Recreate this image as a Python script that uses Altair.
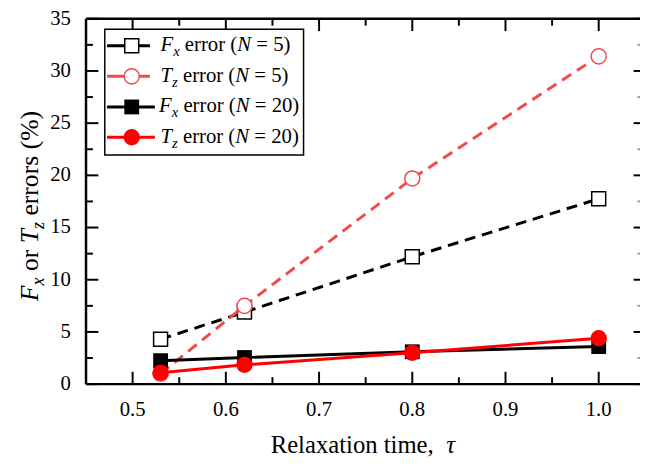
import altair as alt
import pandas as pd

# ---------------- data ----------------
tau = [0.53, 0.62, 0.80, 1.00]
fx_n5 = [4.3, 6.9, 12.2, 17.75]
tz_n5 = [1.0, 7.5, 19.7, 31.4]
fx_n20 = [2.25, 2.55, 3.1, 3.6]
tz_n20 = [1.1, 1.85, 3.0, 4.4]

x_major = [0.5, 0.6, 0.7, 0.8, 0.9, 1.0]
x_minor = [0.55, 0.65, 0.75, 0.85, 0.95]
y_major = [0, 5, 10, 15, 20, 25, 30, 35]
y_minor = [2.5, 7.5, 12.5, 17.5, 22.5, 27.5, 32.5]

# rich-text labels: (text, italic, subscript)
legend_rows = [
    [("F", True, False), ("x", True, True), (" error (", False, False), ("N", True, False), (" = 5)", False, False)],
    [("T", True, False), ("z", True, True), (" error (", False, False), ("N", True, False), (" = 5)", False, False)],
    [("F", True, False), ("x", True, True), (" error (", False, False), ("N", True, False), (" = 20)", False, False)],
    [("T", True, False), ("z", True, True), (" error (", False, False), ("N", True, False), (" = 20)", False, False)],
]
x_title = [("Relaxation time,", False, False), ("  \u03c4", True, False)]
y_title = [("F", True, False), ("x", True, True), (" or ", False, False), ("T", True, False),
           ("z", True, True), (" errors (%)", False, False)]

# ---------------- style ----------------
FONT = "Liberation Serif"
W, H = 561, 370
RED_L = "#f24a4a"
RED = "#ff0000"
xs = alt.Scale(domain=[0.45, 1.0443], nice=False, zero=False)
ys = alt.Scale(domain=[0, 35], nice=False, zero=False)

# Times / Liberation Serif advance widths (1/1000 em)
REG = {' ': 250, '(': 333, ')': 333, '=': 564, '%': 833, ',': 250, 'R': 667, 'e': 444, 'r': 333,
       'o': 500, 's': 389, 'l': 278, 'a': 444, 'x': 500, 't': 278, 'i': 278, 'n': 500, 'm': 778}
ITA = {'F': 611, 'T': 556, 'N': 667, 'x': 444, 'z': 389, '\u03c4': 440}


def layout(segs, size, subscale=0.7):
    pos = 0.0
    out = []
    for text, italic, sub in segs:
        fs = size * subscale if sub else size
        table = ITA if italic else REG
        lead = len(text) - len(text.lstrip(' '))
        pos += lead * 250 / 1000 * fs
        core = text.strip(' ')
        out.append((core, pos, italic, fs, sub))
        pos += sum(table.get(c, 500) for c in core) / 1000 * fs
        trail = len(text) - len(text.rstrip(' '))
        pos += trail * 250 / 1000 * fs
    return out


def text_piece(txt, px, py, italic, fs, angle=None):
    kw = dict(font=FONT, fontSize=fs, align='left', baseline='alphabetic')
    if italic:
        kw['fontStyle'] = 'italic'
    if angle is not None:
        kw['angle'] = angle
    return alt.Chart(pd.DataFrame({'t': [txt]})).mark_text(**kw).encode(
        text='t:N', x=alt.value(px), y=alt.value(py))


one = pd.DataFrame({'a': [0]})
layers = []

# ---------------- frame (spines) ----------------
layers.append(alt.Chart(one).mark_rule(color='black', strokeWidth=2.5).encode(
    x=alt.value(0), x2=alt.value(W), y=alt.value(0)))
layers.append(alt.Chart(one).mark_rule(color='black', strokeWidth=2.5).encode(
    x=alt.value(0), x2=alt.value(W), y=alt.value(H)))
layers.append(alt.Chart(one).mark_rule(color='black', strokeWidth=2.5).encode(
    x=alt.value(0), y=alt.value(0), y2=alt.value(H)))


def xticks(vals, y0, y1, color='black'):
    return alt.Chart(pd.DataFrame({'v': vals})).mark_rule(color=color, strokeWidth=2).encode(
        x=alt.X('v:Q', scale=xs, axis=None), y=alt.value(y0), y2=alt.value(y1))


def yticks(vals, x0, x1, color='black'):
    return alt.Chart(pd.DataFrame({'v': vals})).mark_rule(color=color, strokeWidth=2).encode(
        y=alt.Y('v:Q', scale=ys, axis=None), x=alt.value(x0), x2=alt.value(x1))


layers += [
    xticks(x_major, H, H - 12.5), xticks(x_minor, H, H - 7),
    xticks(x_major, 0, 12.5), xticks(x_minor, 0, 7),
    yticks(y_major, 0, 12.5), yticks(y_minor, 0, 7),
    yticks(y_major, W - 6.5, W), yticks(y_minor, W - 2.5, W, '#9a9a9a'),
]

# tick labels through the scales
layers.append(alt.Chart(pd.DataFrame({'v': x_major})).mark_text(
    font=FONT, fontSize=21, align='center', baseline='alphabetic').encode(
    x=alt.X('v:Q', scale=xs, axis=None), y=alt.value(H + 32), text=alt.Text('v:Q', format='.1f')))
layers.append(alt.Chart(pd.DataFrame({'v': y_major})).mark_text(
    font=FONT, fontSize=21, align='right', baseline='middle').encode(
    y=alt.Y('v:Q', scale=ys, axis=None), x=alt.value(-15.3), text=alt.Text('v:Q', format='d')))


def series(vals, color, dash, mark):
    df = pd.DataFrame({'tau': tau, 'v': vals})
    base = alt.Chart(df).encode(x=alt.X('tau:Q', scale=xs, axis=None),
                                y=alt.Y('v:Q', scale=ys, axis=None))
    lkw = dict(color=color, strokeWidth=3)
    if dash:
        lkw['strokeDash'] = dash
    return [base.mark_line(**lkw), mark(base)]


layers += series(fx_n5, 'black', [11, 7],
                 lambda b: b.mark_square(size=200, fill='white', stroke='black', strokeWidth=1.5, opacity=1))
layers += series(tz_n5, RED_L, [11, 7],
                 lambda b: b.mark_circle(size=235, fill='white', stroke=RED_L, strokeWidth=1.5, opacity=1))
layers += series(fx_n20, 'black', None,
                 lambda b: b.mark_square(size=225, color='black', opacity=1))
layers += series(tz_n20, RED, None,
                 lambda b: b.mark_circle(size=275, color=RED, opacity=1))

# ---------------- legend ----------------
layers.append(alt.Chart(one).mark_rect(fill='white', stroke='black', strokeWidth=1.5).encode(
    x=alt.value(19), x2=alt.value(220.3), y=alt.value(10.7), y2=alt.value(138)))

row_y = [27.3, 58.3, 89.3, 120.0]
row_line_end = [64.7, 64.7, 69.7, 69.7]
row_text_x = [75.5, 75.5, 74.0, 75.5]
row_colors = ['black', RED_L, 'black', RED]
for i in range(4):
    layers.append(alt.Chart(one).mark_rule(color=row_colors[i], strokeWidth=3).encode(
        x=alt.value(21.3), x2=alt.value(row_line_end[i]), y=alt.value(row_y[i])))
mx = 46.3
layers.append(alt.Chart(one).mark_square(size=200, fill='white', stroke='black', strokeWidth=1.5, opacity=1)
              .encode(x=alt.value(mx), y=alt.value(row_y[0])))
layers.append(alt.Chart(one).mark_circle(size=235, fill='white', stroke=RED_L, strokeWidth=1.5, opacity=1)
              .encode(x=alt.value(mx), y=alt.value(row_y[1])))
layers.append(alt.Chart(one).mark_square(size=225, color='black', opacity=1)
              .encode(x=alt.value(mx), y=alt.value(row_y[2])))
layers.append(alt.Chart(one).mark_circle(size=275, color=RED, opacity=1)
              .encode(x=alt.value(mx), y=alt.value(row_y[3])))

LFS = 21
for i, segs in enumerate(legend_rows):
    for core, pos, italic, fs, sub in layout(segs, LFS):
        layers.append(text_piece(core, row_text_x[i] + pos, row_y[i] + 5.5 + (5 if sub else 0), italic, fs))

# ---------------- axis titles ----------------
for core, pos, italic, fs, sub in layout(x_title, 25):
    layers.append(text_piece(core, 187 + pos, 440, italic, fs))

YFS = 26
for core, pos, italic, fs, sub in layout(y_title, YFS):
    layers.append(text_piece(core, -49 + (6 if sub else 0), 286 - pos, italic, fs, angle=270))

chart = alt.layer(*layers).properties(
    width=W, height=H,
    autosize=alt.AutoSizeParams(type='none'),
    padding={'left': 79, 'top': 8, 'right': 0, 'bottom': 80},
).configure_view(stroke=None)

chart.save("out.html", embed_options={"renderer": "svg", "actions": False})
